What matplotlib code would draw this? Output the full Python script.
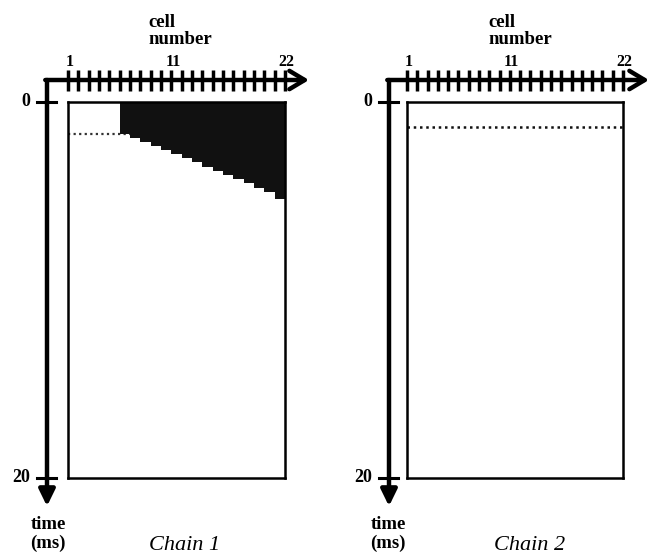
import matplotlib.pyplot as plt

W, H = 657, 556

n_cells = 22
cell_ticks = [1, 11, 22]
tick_cells = [1, 2, 3, 4, 5, 6, 7, 8, 9, 10, 11, 12, 13, 14, 15, 16, 17, 18, 19, 20, 21, 22]
time_ticks = [0, 20]

# chain 1: active cells (left edge) and the time (ms) where activity stops
active_cells = [6, 7, 8, 9, 10, 11, 12, 13, 14, 15, 16, 17, 18, 19, 20, 21]
active_end_ms = [1.72, 1.93, 2.15, 2.34, 2.55, 2.78, 3.00, 3.21,
                 3.44, 3.67, 3.88, 4.10, 4.33, 4.56, 4.80, 5.15]

# dotted threshold line (ms) for each chain
threshold_ms = [1.72, 1.33]
titles = ['Chain 1', 'Chain 2']

SERIF = 'Liberation Serif'

fig = plt.figure(figsize=(W / 100, H / 100), dpi=100)


def px_axes(left, top, w, h):
    return fig.add_axes([left / W, 1 - (top + h) / H, w / W, h / H])


def decorate(ax, left_px, w_px, axis_px, tip_px, ytick_px):
    ax.set_xlim(1, n_cells)
    ax.set_ylim(20, 0)
    ax.set_xticks([])
    ax.set_yticks([])
    for s in ax.spines.values():
        s.set_linewidth(1.8)
    xa = (axis_px - left_px) / w_px
    xt = (tip_px - left_px) / w_px
    yh = 1 + 22 / 376.0
    # horizontal axis with arrow
    ax.annotate('', xy=(xt, yh), xytext=(xa - 0.008, yh), xycoords='axes fraction',
                arrowprops=dict(arrowstyle='->,head_length=0.5,head_width=0.3', lw=3.2,
                                color='k', mutation_scale=22, shrinkA=0, shrinkB=0),
                annotation_clip=False)
    # vertical (time) axis with arrow
    ax.annotate('', xy=(xa, -0.075), xytext=(xa, yh), xycoords='axes fraction',
                arrowprops=dict(arrowstyle='-|>,head_length=0.45,head_width=0.22', lw=3.2,
                                color='k', mutation_scale=22, shrinkA=0, shrinkB=0),
                annotation_clip=False)
    xtr = ax.get_xaxis_transform()
    for c in tick_cells:
        ax.plot([c, c], [1 + 11 / 376.0, 1 + 32 / 376.0], transform=xtr, color='k',
                lw=2.5, clip_on=False, solid_capstyle='butt')
    for c in cell_ticks:
        ax.text(c + 0.15, 1 + 32 / 376.0, str(c), transform=xtr, ha='center', va='bottom',
                fontsize=11.5, fontweight='bold', family=SERIF)
    ytr = ax.get_yaxis_transform()
    x0 = (ytick_px[0] - left_px) / w_px
    x1 = (ytick_px[1] - left_px) / w_px
    for t in time_ticks:
        ax.plot([x0, x1], [t, t], transform=ytr, color='k', lw=2.2, clip_on=False)
        ax.text(x0 - 0.03, t, str(t), transform=ytr, ha='right', va='center',
                fontsize=13, fontweight='bold', family=SERIF)


ax1 = px_axes(68, 102, 217, 376)
ax2 = px_axes(407, 102, 216, 376)

ax1.bar(active_cells, active_end_ms, width=1, align='edge', color='#111111',
        edgecolor='none', zorder=2)
ax1.axhline(threshold_ms[0], color='#333333', ls=(0, (1, 1.5)), lw=1.6, zorder=1)
ax2.axhline(threshold_ms[1], color='#111111', ls=(0, (1, 1.5)), lw=1.8, zorder=1)

decorate(ax1, 68, 217, 47, 309, (37, 56))
decorate(ax2, 407, 216, 389, 649, (379, 398))

for lx, cx, ax_x, title in [(148, 185, 48, titles[0]), (488, 530, 388, titles[1])]:
    fig.text(lx / W, 1 - 31 / H, 'cell\nnumber', ha='left', va='center',
             fontsize=13.5, fontweight='bold', family=SERIF, linespacing=1.05)
    fig.text(ax_x / W, 1 - 534 / H, 'time\n(ms)', ha='center', va='center',
             fontsize=13.5, fontweight='bold', family=SERIF, linespacing=1.2)
    fig.text(cx / W, 1 - 546 / H, title, ha='center', va='center',
             fontsize=16, style='italic', family=SERIF)

fig.savefig('out.png', dpi=100)
